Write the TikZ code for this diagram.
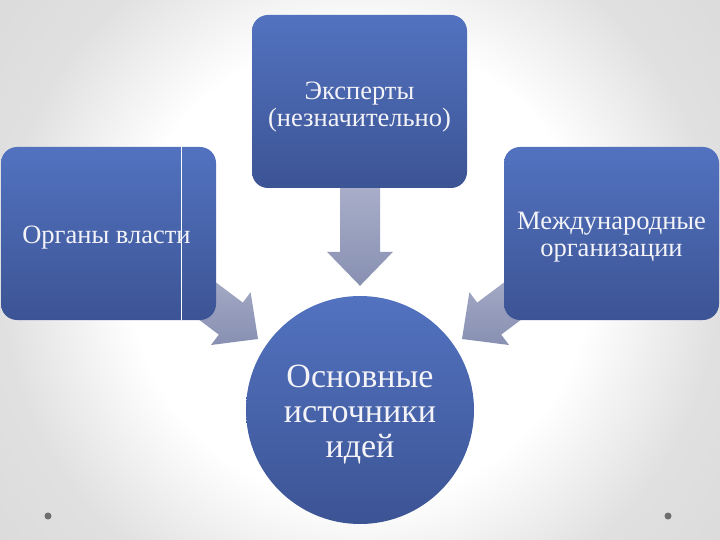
\documentclass[tikz,border=0pt]{standalone}
\usepackage{fontspec}
\setmainfont{Liberation Serif}
\usetikzlibrary{calc}
\definecolor{boxtop}{RGB}{82,114,192}
\definecolor{boxbot}{RGB}{60,84,148}
\definecolor{arrtop}{RGB}{168,174,200}
\definecolor{arrbot}{RGB}{136,144,178}
\definecolor{txt}{RGB}{244,244,248}
\definecolor{dotc}{RGB}{110,110,110}
\pgfdeclareradialshading{bgshade}{\pgfpoint{0bp}{0bp}}{color(0bp)=(white); color(16bp)=(white); color(25bp)=(black!12); color(50bp)=(black!20)}
\pgfdeclarelayer{bglayer}
\pgfdeclarelayer{arrlayer}
\pgfsetlayers{bglayer,arrlayer,main}
\tikzset{
  box/.style={rectangle, rounded corners=16pt, top color=boxtop, bottom color=boxbot,
    minimum width=215pt, minimum height=173pt, inner sep=0pt},
  hub/.style={circle, top color=boxtop, bottom color=boxbot, minimum size=228pt,
    inner sep=0pt},
  lbl/.style={text=txt, align=center, inner sep=0pt},
  boxtext/.style={lbl, font=\fontsize{26.5}{27}\selectfont},
  hubtext/.style={lbl, font=\fontsize{34}{35}\selectfont},
  blockarrow/.style={top color=arrtop, bottom color=arrbot, draw=none},
  dotmark/.style={fill=dotc, draw=none}
}
\begin{document}
\begin{tikzpicture}[x=1pt, y=-1pt]
\useasboundingbox (0,0) rectangle (720,540);
\begin{pgfonlayer}{bglayer}
\begin{scope}
\clip (0,0) rectangle (720,540);
\shade[shading=bgshade] (0,-90) rectangle (720,630);
\end{scope}
\end{pgfonlayer}

\node[box] (exp) at (359.5,101.5) {};
\node[box] (org) at (108.5,233.5) {};
\node[box] (intl) at (611.5,233.5) {};
\node[hub] (idea) at (360,410) {};

\node[boxtext] (expt) at ($(exp.center)+(0,6)$) {Эксперты\\(незначительно)};
\node[boxtext] (orgt) at ($(org.center)+(-2,4)$) {Органы власти};
\node[boxtext] (intlt) at ($(intl.center)+(0,4)$) {Международные\\организации};
\node[hubtext] (ideat) at ($(idea.center)+(0,5)$) {Основные\\источники\\идей};

\draw[white, line width=1pt] ($(org.north west)+(181,0)$) -- ($(org.south west)+(181,0)$);

\coordinate (dt) at ($(idea.north)+(0,-10)$);
\coordinate (lt) at ($(idea.center)+(-102,-71)$);
\coordinate (rt) at ($(idea.center)+(102,-71)$);

\begin{pgfonlayer}{arrlayer}
\begin{scope}[shift={(dt)}]
\shade[blockarrow] (-20,-98) -- (20,-98) -- (20,-34) -- (33,-34) -- (0,0) -- (-33,-34) -- (-20,-34) -- cycle;
\end{scope}
\begin{scope}[shift={(lt)}]
\shade[blockarrow] (-63.2,-72.4) -- (-15.2,-36.4) -- (-7.4,-46.8) -- (0,0) -- (-47,6) -- (-39.2,-4.4) -- (-87.2,-40.4) -- cycle;
\end{scope}
\begin{scope}[shift={(rt)}, xscale=-1]
\shade[blockarrow] (-63.2,-72.4) -- (-15.2,-36.4) -- (-7.4,-46.8) -- (0,0) -- (-47,6) -- (-39.2,-4.4) -- (-87.2,-40.4) -- cycle;
\end{scope}
\end{pgfonlayer}

\fill[dotmark] (48,516) circle (3.5);
\fill[dotmark] (668,516) circle (3.5);
\end{tikzpicture}
\end{document}
